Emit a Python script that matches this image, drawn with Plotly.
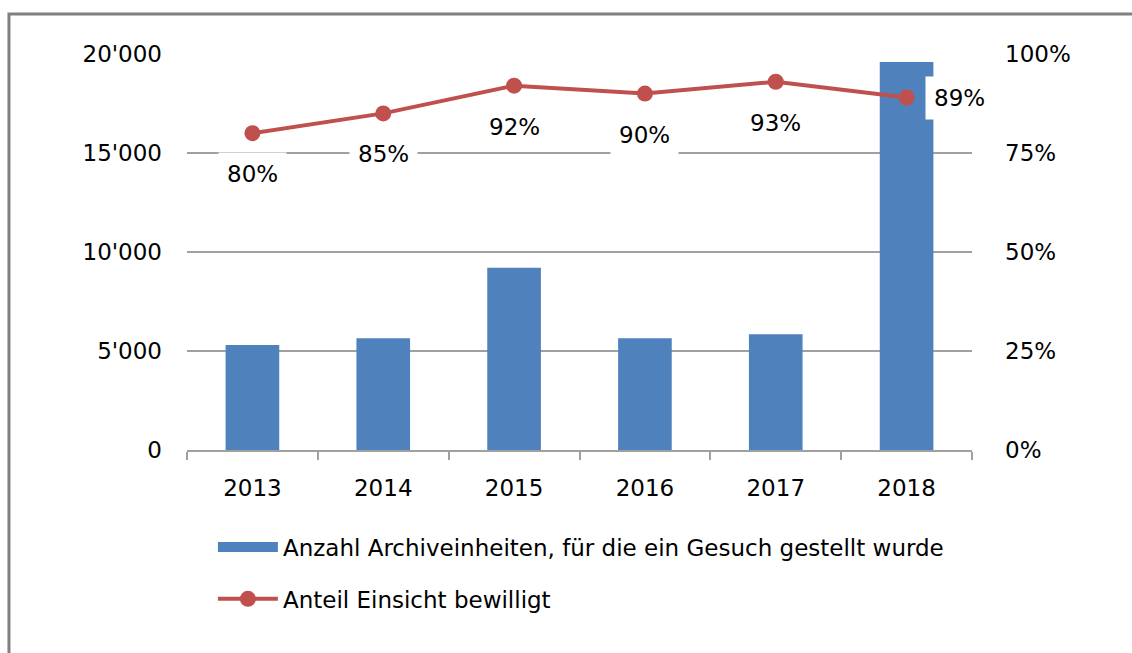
import plotly.graph_objects as go

years = ["2013", "2014", "2015", "2016", "2017", "2018"]
units = [5300, 5650, 9200, 5650, 5850, 19600]
share = [80, 85, 92, 90, 93, 89]

bar_name = "Anzahl Archiveinheiten, für die ein Gesuch gestellt wurde"
line_name = "Anteil Einsicht bewilligt"

BAR_C = "#4f81bd"
LINE_C = "#c0504d"
GRID_C = "#a0a0a0"
FONT = "DejaVu Sans"
FS = 23

fig = go.Figure()
fig.add_trace(go.Bar(x=years, y=units, marker=dict(color=BAR_C, line=dict(width=0)),
                     width=0.41, showlegend=False, name=bar_name))
fig.add_trace(go.Scatter(x=years, y=share, yaxis="y2", mode="lines+markers",
                         line=dict(color=LINE_C, width=4),
                         marker=dict(color=LINE_C, size=16),
                         name=line_name, legend="legend2", cliponaxis=False))
# legend entry for bars (wide rectangle symbol)
fig.add_trace(go.Scatter(x=[None], y=[None], mode="lines",
                         line=dict(color=BAR_C, width=14),
                         name=bar_name, legend="legend"))

annotations = []
for i, v in enumerate(share):
    last = i == len(share) - 1
    annotations.append(dict(
        x=i, y=v, xref="x", yref="y2", text=f"{v:.0f}%", showarrow=False,
        font=dict(family=FONT, size=FS, color="black"),
        bgcolor="white", borderpad=8,
        xshift=53 if last else 0, yshift=0 if last else -41,
    ))

fig.update_layout(
    width=1132, height=653,
    margin=dict(l=187, r=160, t=54, b=203),
    paper_bgcolor="white", plot_bgcolor="white",
    font=dict(family=FONT, size=FS, color="black"),
    separators=".'",
    xaxis=dict(type="category", range=[-0.5, len(years) - 0.5], autorange=False,
               showline=True, linecolor=GRID_C, linewidth=1.5,
               ticks="outside", tickson="boundaries", ticklen=8, tickcolor=GRID_C,
               tickwidth=1.5, showgrid=False, ticklabelstandoff=17, tickangle=0,
               tickfont=dict(family=FONT, size=FS, color="black")),
    yaxis=dict(range=[0, 20000], dtick=5000, tickformat=",", showgrid=True,
               gridcolor=GRID_C, gridwidth=1.5, zeroline=False, showline=False,
               ticklabelstandoff=24,
               tickfont=dict(family=FONT, size=FS, color="black")),
    yaxis2=dict(range=[0, 100], dtick=25, ticksuffix="%", overlaying="y", side="right",
                showgrid=False, zeroline=False, showline=False, ticklabelstandoff=32,
                tickfont=dict(family=FONT, size=FS, color="black")),
    legend=dict(x=0.033, y=-0.245, xanchor="left", yanchor="middle",
                itemwidth=60, font=dict(family=FONT, size=FS, color="black"),
                bgcolor="rgba(0,0,0,0)"),
    legend2=dict(x=0.033, y=-0.376, xanchor="left", yanchor="middle",
                 itemwidth=60, font=dict(family=FONT, size=FS, color="black"),
                 bgcolor="rgba(0,0,0,0)"),
    annotations=annotations,
    shapes=[dict(type="rect", xref="paper", yref="paper",
                 x0=-0.2268, x1=1.3, y0=-0.8, y1=1.101,
                 line=dict(color="#808080", width=3), layer="above")],
)

fig.write_html("out.html", config={"displayModeBar": False},
               post_script="document.body.style.margin='0';")
